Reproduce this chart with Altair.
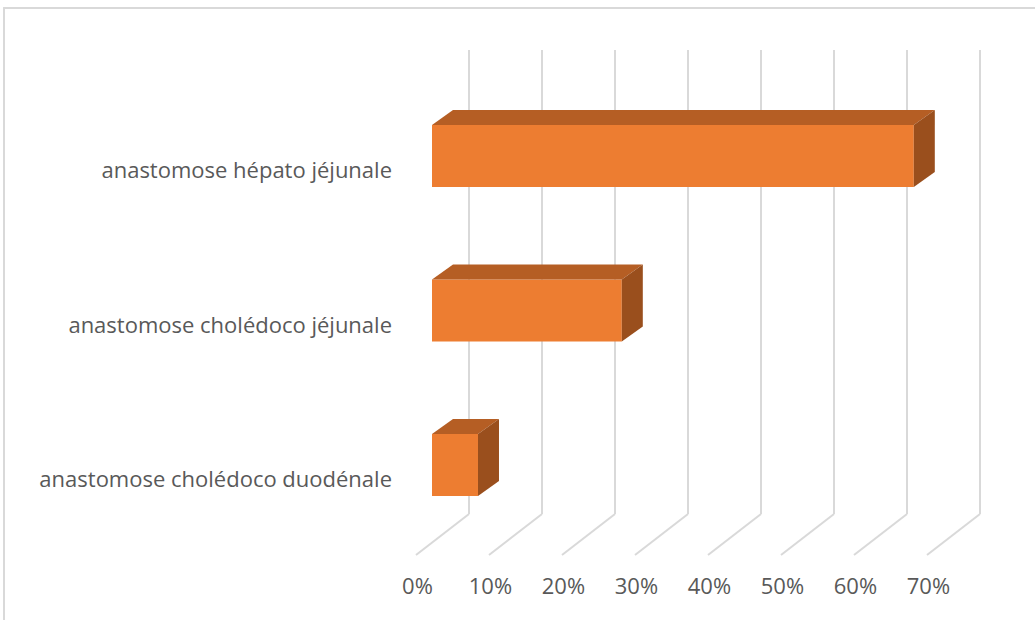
import altair as alt
import pandas as pd

# ---------------- data ----------------
categories = [
    "anastomose hépato jéjunale",
    "anastomose cholédoco jéjunale",
    "anastomose cholédoco duodénale",
]
values = [66, 26, 6.3]  # percent
ticks = [0, 10, 20, 30, 40, 50, 60, 70]
tick_labels = ["0%", "10%", "20%", "30%", "40%", "50%", "60%", "70%"]

# ---------------- geometry (pseudo-3D projection, in data units) ----------------
W, H = 1031, 612
PX = 7.3        # pixels per percent
PY = 154.5      # pixels per category step
X0_PIX = 412    # plot-x of 0% on the front floor edge
Y0_PIX = 148    # plot-y of the first bar's centre

FRONT_DX = 16 / PX      # bar front face offset from front floor
BAR_DX = 21 / PX        # bar depth (x)
BAR_DY = 15 / PY        # bar depth (y)
HALF = 31 / PY          # half bar height
WALL_DX = 53 / PX       # back wall offset from front floor
WALL_BOTTOM = (514 - 156) / PY
FLOOR_FRONT = (555 - 156) / PY
GRID_TOP = (50 - 156) / PY
TICK_Y = (587 - 156) / PY
LABEL_X = (392 - 416) / PX
LABEL_DY = 15 / PY

x_scale = alt.Scale(domain=[-X0_PIX / PX, (W - X0_PIX) / PX], nice=False, zero=False)
y_scale = alt.Scale(domain=[-Y0_PIX / PY, (H - Y0_PIX) / PY], nice=False, zero=False, reverse=True)

FRONT = "#ED7D31"
TOP = "#B55E24"
SIDE = "#9A4F1D"
GRID = "#D9D9D9"
TEXT = "#595959"
FONT = "Open Sans"

# ---------------- tables ----------------
bars = pd.DataFrame({"cat": categories, "idx": range(len(categories)), "value": values})
bars["x0"] = FRONT_DX
bars["x1"] = bars["value"] + FRONT_DX
bars["ytop"] = bars["idx"] - HALF
bars["ybot"] = bars["idx"] + HALF

top_rows, side_rows = [], []
for _, r in bars.iterrows():
    xl, xr, yt, yb = r["x0"], r["x1"], r["ytop"], r["ybot"]
    top_rows += [
        {"cat": r["cat"], "px": xl, "py": yt, "py2": yt},
        {"cat": r["cat"], "px": xl + BAR_DX, "py": yt, "py2": yt - BAR_DY},
        {"cat": r["cat"], "px": xr, "py": yt, "py2": yt - BAR_DY},
        {"cat": r["cat"], "px": xr + BAR_DX, "py": yt - BAR_DY, "py2": yt - BAR_DY},
    ]
    side_rows += [
        {"cat": r["cat"], "py": yt - BAR_DY, "px": xr + BAR_DX, "px2": xr + BAR_DX},
        {"cat": r["cat"], "py": yt, "px": xr, "px2": xr + BAR_DX},
        {"cat": r["cat"], "py": yb - BAR_DY, "px": xr, "px2": xr + BAR_DX},
        {"cat": r["cat"], "py": yb, "px": xr, "px2": xr},
    ]
top_df = pd.DataFrame(top_rows)
side_df = pd.DataFrame(side_rows)

grid = pd.DataFrame({"t": ticks, "label": tick_labels})
grid["gx"] = grid["t"] + WALL_DX
grid["gtop"] = GRID_TOP
grid["gbot"] = WALL_BOTTOM
grid["fy"] = FLOOR_FRONT
grid["tx"] = grid["t"] + 0.2
grid["ty"] = TICK_Y

labels = bars[["cat", "idx"]].copy()
labels["lx"] = LABEL_X
labels["ly"] = labels["idx"] + LABEL_DY

# ---------------- layers ----------------
border = alt.Chart(bars).mark_rect(fill="transparent", stroke=GRID, strokeWidth=1.5).encode(
    x=alt.value(0), x2=alt.value(W + 200), y=alt.value(0), y2=alt.value(H + 200)
)

vgrid = alt.Chart(grid).mark_rule(color=GRID, strokeWidth=2).encode(
    x=alt.X("gx:Q", scale=x_scale, axis=None),
    y=alt.Y("gtop:Q", scale=y_scale, axis=None),
    y2="gbot:Q",
)
dgrid = alt.Chart(grid).mark_rule(color=GRID, strokeWidth=2).encode(
    x=alt.X("gx:Q", scale=x_scale, axis=None),
    y=alt.Y("gbot:Q", scale=y_scale, axis=None),
    x2="t:Q",
    y2="fy:Q",
)

front = alt.Chart(bars).mark_rect(color=FRONT).encode(
    x=alt.X("x0:Q", scale=x_scale, axis=None),
    x2="x1:Q",
    y=alt.Y("ytop:Q", scale=y_scale, axis=None),
    y2="ybot:Q",
)

faces = []
for c in categories:
    faces.append(
        alt.Chart(top_df).transform_filter(alt.datum.cat == c)
        .mark_area(color=TOP, orient="vertical", opacity=1)
        .encode(
            x=alt.X("px:Q", scale=x_scale, axis=None),
            y=alt.Y("py:Q", scale=y_scale, axis=None, stack=None),
            y2="py2:Q",
        )
    )
    faces.append(
        alt.Chart(side_df).transform_filter(alt.datum.cat == c)
        .mark_area(color=SIDE, orient="horizontal", opacity=1)
        .encode(
            y=alt.Y("py:Q", scale=y_scale, axis=None),
            x=alt.X("px:Q", scale=x_scale, axis=None, stack=None),
            x2="px2:Q",
        )
    )

tick_text = alt.Chart(grid).mark_text(
    font=FONT, fontSize=22, color=TEXT, align="center", baseline="middle"
).encode(
    x=alt.X("tx:Q", scale=x_scale, axis=None),
    y=alt.Y("ty:Q", scale=y_scale, axis=None),
    text="label:N",
)

cat_text = alt.Chart(labels).mark_text(
    font=FONT, fontSize=22, color=TEXT, align="right", baseline="middle"
).encode(
    x=alt.X("lx:Q", scale=x_scale, axis=None),
    y=alt.Y("ly:Q", scale=y_scale, axis=None),
    text="cat:N",
)

chart = (
    alt.layer(border, vgrid, dgrid, front, *faces, tick_text, cat_text)
    .properties(
        width=W,
        height=H,
        autosize=alt.AutoSizeParams(type="none"),
        padding={"left": 4, "top": 8, "right": 0, "bottom": 0},
        background="white",
    )
    .configure_view(stroke=None)
)

chart.save("out.html", embed_options={"renderer": "svg", "actions": False})
